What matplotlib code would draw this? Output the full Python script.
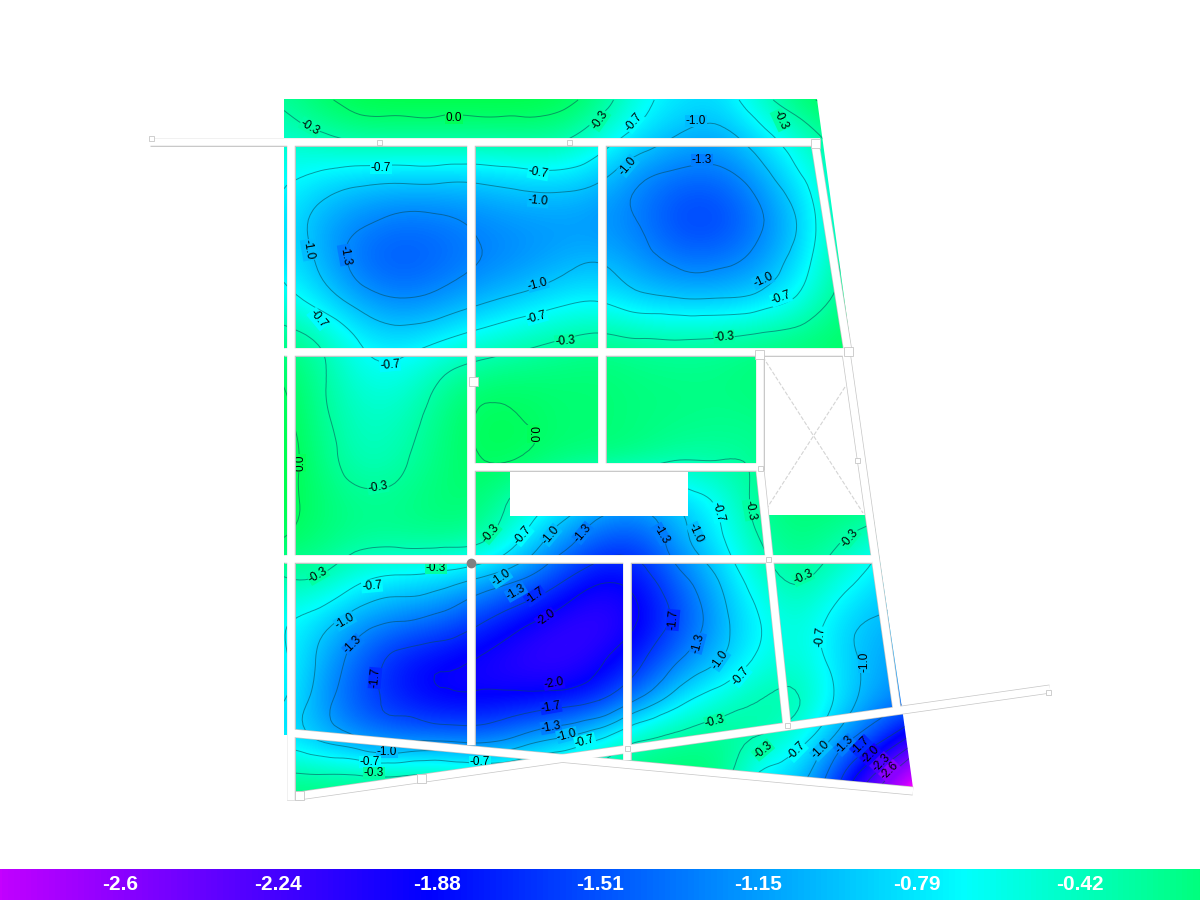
"""Floor slab contour map with a horizontal colour strip"""
import numpy as np
import matplotlib
matplotlib.use('Agg')
import matplotlib.pyplot as plt
import matplotlib.tri as mtri
from matplotlib.colors import LinearSegmentedColormap, Normalize
from matplotlib.patches import Polygon, Rectangle

# Grid of values (pixel coords of the drawing)
grid_x = [280, 320, 360, 400, 440, 480, 520, 560, 600, 640, 680, 720, 760, 800, 840, 880, 920]
grid_y = [100, 140, 180, 220, 260, 300, 340, 380, 420, 460, 500, 540, 580, 620, 660, 700, 740, 780, 820]
grid_values = [
    [-0.25, -0.05, 0.08, 0.10, 0.10, 0.10, 0.10, 0.05, -0.15, -0.60, -0.80, -0.85, -0.45, -0.08, 0.05, 0.05, 0.05],
    [-0.50, -0.38, -0.27, -0.27, -0.27, -0.27, -0.25, -0.27, -0.55, -0.85, -1.05, -1.10, -0.85, -0.50, -0.20, -0.10, -0.10],
    [-0.65, -0.80, -0.92, -0.95, -0.95, -0.95, -0.88, -0.85, -0.98, -1.27, -1.42, -1.42, -1.15, -0.75, -0.35, -0.10, -0.10],
    [-0.75, -1.08, -1.25, -1.35, -1.33, -1.25, -1.18, -1.17, -1.20, -1.32, -1.60, -1.60, -1.33, -0.95, -0.30, -0.05, -0.05],
    [-0.75, -1.05, -1.40, -1.50, -1.42, -1.30, -1.22, -1.10, -1.02, -1.20, -1.36, -1.36, -1.20, -0.85, -0.30, -0.05, -0.05],
    [-0.55, -0.82, -1.13, -1.28, -1.20, -1.05, -0.92, -0.78, -0.72, -0.90, -0.97, -0.97, -0.88, -0.62, -0.20, 0.00, 0.00],
    [-0.15, -0.35, -0.72, -0.85, -0.72, -0.55, -0.42, -0.30, -0.22, -0.28, -0.30, -0.27, -0.20, -0.15, -0.05, 0.00, 0.00],
    [0.00, -0.25, -0.55, -0.58, -0.30, -0.12, -0.10, -0.10, -0.10, -0.15, -0.17, -0.17, -0.10, -0.10, -0.10, -0.10, -0.10],
    [0.10, -0.22, -0.45, -0.42, -0.18, 0.02, 0.01, -0.10, -0.10, -0.15, -0.17, -0.20, -0.20, -0.10, -0.10, -0.10, -0.10],
    [0.10, -0.15, -0.42, -0.35, -0.15, -0.01, -0.02, -0.10, -0.12, -0.17, -0.30, -0.30, -0.25, -0.10, -0.10, -0.10, -0.10],
    [0.10, -0.10, -0.22, -0.20, -0.10, -0.10, -0.40, -0.70, -1.00, -1.10, -0.90, -0.62, -0.20, -0.10, -0.10, -0.10, -0.10],
    [0.00, -0.12, -0.22, -0.22, -0.20, -0.25, -0.70, -1.15, -1.50, -1.55, -1.10, -0.75, -0.30, -0.15, -0.28, -0.55, -0.70],
    [-0.35, -0.35, -0.65, -0.78, -0.85, -1.05, -1.30, -1.65, -1.95, -1.85, -1.40, -0.98, -0.50, -0.28, -0.55, -0.85, -1.00],
    [-0.65, -0.85, -1.15, -1.28, -1.40, -1.65, -1.90, -2.10, -2.20, -1.98, -1.58, -1.10, -0.70, -0.50, -0.85, -1.02, -1.10],
    [-0.60, -1.05, -1.45, -1.80, -1.93, -2.02, -2.15, -2.20, -2.03, -1.75, -1.30, -1.00, -0.62, -0.50, -0.85, -1.10, -1.20],
    [-0.65, -1.15, -1.55, -1.78, -1.95, -1.95, -1.90, -1.85, -1.70, -1.25, -0.80, -0.50, -0.30, -0.30, -0.80, -1.15, -1.30],
    [-0.80, -1.02, -1.25, -1.35, -1.33, -1.38, -1.18, -0.95, -0.68, -0.32, -0.20, -0.18, -0.35, -0.60, -1.15, -1.65, -2.30],
    [-0.20, -0.20, -0.20, -0.20, -0.20, -0.30, -0.30, -0.30, -0.20, -0.10, -0.10, -0.15, -0.80, -0.95, -1.68, -2.50, -3.20],
    [-0.10, -0.10, -0.10, -0.10, -0.10, -0.20, -0.20, -0.20, -0.10, -0.05, -0.05, -0.10, -0.90, -1.10, -1.90, -2.80, -3.40],
]

contour_levels = [-2.6, -2.3, -2.0, -1.7, -1.3, -1.0, -0.7, -0.3, 0.0]

# text, x, y, rotation
contour_labels = [
    ('0.0', 454, 118, 0), ('-0.3', 310, 127, -30), ('-0.3', 600, 120, 55), ('-0.7', 634, 122, 50),
    ('-1.0', 696, 121, 0), ('-0.3', 780, 120, -65), ('-0.7', 381, 168, 0), ('-0.7', 538, 173, -10),
    ('-1.0', 538, 201, -5), ('-1.0', 628, 166, 50), ('-1.3', 702, 160, 0), ('-1.0', 308, 250, -80),
    ('-1.3', 345, 255, -80), ('-0.7', 318, 319, -50), ('-1.0', 538, 284, 15), ('-0.7', 537, 317, 15),
    ('-1.0', 763, 280, 25), ('-0.7', 781, 298, 20), ('-0.3', 565, 341, 5), ('-0.3', 724, 337, 5),
    ('-0.7', 390, 365, 5), ('-0.3', 378, 487, 10), ('0.0', 300, 463, 90), ('0.0', 533, 434, -90),
    ('-0.3', 491, 533, 50), ('-0.7', 523, 535, 50), ('-1.0', 551, 535, 50), ('-1.3', 583, 533, 50),
    ('-1.3', 661, 534, -60), ('-1.0', 696, 533, -65), ('-0.7', 718, 512, -75), ('-0.3', 750, 510, -80),
    ('-0.3', 850, 538, 50), ('-0.3', 318, 575, 30), ('-0.7', 372, 586, 5), ('-1.0', 345, 621, 30),
    ('-1.3', 353, 645, 45), ('-1.7', 375, 678, 85), ('-0.3', 436, 568, 0), ('-1.0', 501, 578, 35),
    ('-1.3', 516, 592, 30), ('-1.7', 535, 596, 35), ('-2.0', 546, 618, 35), ('-2.0', 554, 683, 10),
    ('-1.7', 551, 707, 10), ('-1.3', 551, 727, 10), ('-1.0', 567, 735, 15), ('-0.7', 585, 741, 15),
    ('-1.0', 387, 752, 0), ('-0.7', 370, 762, 0), ('-0.3', 374, 773, 0), ('-0.7', 480, 762, 0),
    ('-1.7', 673, 620, 85), ('-1.3', 698, 643, 75), ('-1.0', 720, 660, 55), ('-0.7', 741, 676, 50),
    ('-0.3', 715, 721, 15), ('-0.3', 803, 577, 25), ('-0.7', 820, 637, 85), ('-1.0', 864, 662, 90),
    ('-0.3', 763, 750, 40), ('-0.7', 797, 751, 45), ('-1.0', 821, 750, 45), ('-1.3', 845, 745, 45),
    ('-1.7', 861, 746, 45), ('-2.0', 871, 755, 45), ('-2.3', 881, 763, 45), ('-2.6', 890, 771, 45),
]

bar_values = [-2.6, -2.24, -1.88, -1.51, -1.15, -0.79, -0.42]
bar_labels = ['-2.6', '-2.24', '-1.88', '-1.51', '-1.15', '-0.79', '-0.42']

# Hue ramp
vmin, vmax = -3.0, 0.38
stops = [(-3.0, '#ff00ff'), (-2.87, '#c000ff'), (-1.9, '#0000ff'), (-0.68, '#00ffff'), (0.38, '#00ff00')]
cmap = LinearSegmentedColormap.from_list(
    'slab', [((v - vmin) / (vmax - vmin), c) for v, c in stops])
norm = Normalize(vmin, vmax)

fig = plt.figure(figsize=(12, 9), dpi=100)
ax = fig.add_axes([0, 0, 1, 1])
ax.set_xlim(0, 1200)
ax.set_ylim(900, 0)
ax.axis('off')

# Slab outline, everything coloured is clipped to it
outline = Polygon([(284, 99), (817, 99), (852, 355), (873, 515), (903, 715), (913, 788),
                   (565, 757), (296, 797), (294, 735), (284, 735)],
                  transform=ax.transData, fill=False, edgecolor='none')
ax.add_patch(outline)

Z = np.array(grid_values)
step = 20
im = ax.imshow(Z, cmap=cmap, norm=norm, interpolation='bicubic', interpolation_stage='data',
               extent=(grid_x[0] - step, grid_x[-1] + step, grid_y[-1] + step, grid_y[0] - step),
               aspect='auto', zorder=1)
im.set_clip_path(outline)
ax.set_xlim(0, 1200)
ax.set_ylim(900, 0)

# Smooth isolines through the read values
gx, gy = np.meshgrid(grid_x, grid_y)
tri = mtri.Triangulation(gx.ravel(), gy.ravel())
tri_fine, z_fine = mtri.UniformTriRefiner(tri).refine_field(Z.ravel(), subdiv=3)
cs = ax.tricontour(tri_fine, z_fine, levels=contour_levels, colors='#0a4a55', linewidths=0.7,
                   linestyles='solid', alpha=0.55, zorder=2)
cs.set_clip_path(outline)

for text, x, y, rot in contour_labels:
    ax.text(x, y, text, fontsize=8.5, family='Liberation Sans', color='black', rotation=rot,
            rotation_mode='anchor', ha='center', va='center', zorder=3,
            bbox=dict(facecolor=cmap(norm(float(text))), edgecolor='none', pad=0.3))

# Openings
ax.add_patch(Rectangle((510, 471), 178, 45, facecolor='white', edgecolor='none', zorder=4))
ax.add_patch(Polygon([(758, 356), (853, 356), (874, 515), (765, 515), (761, 470)],
                     facecolor='white', edgecolor='none', zorder=4))
ax.plot([763, 863], [357, 513], color='#d4d4d4', lw=0.8, ls='--', zorder=5)
ax.plot([845, 767], [387, 508], color='#d4d4d4', lw=0.8, ls='--', zorder=5)


def draw_wall(x0, y0, x1, y1, width=7.5):
    """White wall band with a light grey edge"""
    w = width * 0.72
    ax.plot([x0, x1], [y0, y1], color='#c6c6c6', lw=w + 1.0, solid_capstyle='butt', zorder=6)
    ax.plot([x0, x1], [y0, y1], color='white', lw=w, solid_capstyle='butt', zorder=7)


draw_wall(150, 142, 820, 142)
draw_wall(284, 352, 850, 352)
draw_wall(284, 559, 872, 559)
draw_wall(471, 467, 762, 467)
draw_wall(290.5, 143, 290.5, 800)
draw_wall(471, 143, 471, 745)
draw_wall(602, 143, 602, 467)
draw_wall(627, 559, 627, 760)
draw_wall(760, 353, 760, 470)
draw_wall(760, 470, 787, 726)
draw_wall(815, 143, 848, 352)
draw_wall(846, 352, 897, 710)
draw_wall(290, 733, 913, 791)
draw_wall(298, 796, 1050, 689)

# Column and node markers
for x, y, s in [(151, 138, 5), (379, 142, 5), (569, 142, 5), (815, 143, 9), (473, 381, 9),
                (759, 354, 9), (848, 351, 9), (760, 468, 5), (857, 460, 5), (768, 559, 5),
                (787, 725, 5), (627, 748, 5), (421, 778, 9), (299, 795, 9), (1048, 692, 5)]:
    ax.add_patch(Rectangle((x - s / 2, y - s / 2), s, s, facecolor='white', edgecolor='#c6c6c6',
                           lw=0.6, zorder=8))
ax.plot([471], [563], 'o', color='#808080', ms=6, zorder=9)

# Colour strip along the bottom
bar = fig.add_axes([0, 0, 1, 31 / 900])
bar_lo, bar_hi = -2.872, -0.147
bar.imshow(np.linspace(bar_lo, bar_hi, 1200).reshape(1, -1), cmap=cmap, norm=norm, aspect='auto',
           extent=(bar_lo, bar_hi, 0, 1))
bar.axis('off')
for v, label in zip(bar_values, bar_labels):
    bar.text(v, 0.5, label, color='white', fontsize=15, fontweight='bold', family='Liberation Sans',
             ha='center', va='center')

fig.savefig('out.png', dpi=100)
